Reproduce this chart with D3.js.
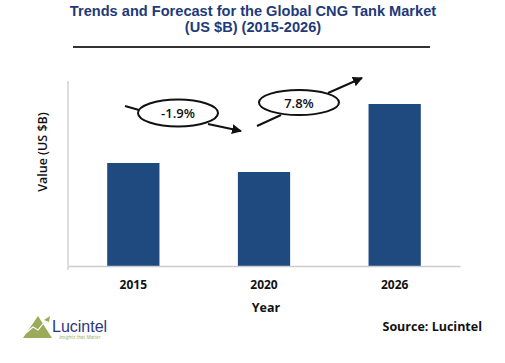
<!DOCTYPE html>
<html>
<head>
<meta charset="utf-8">
<script src="https://cdn.jsdelivr.net/npm/d3@7"></script>
<style>
  body { margin: 0; background: #fff; }
  svg { display: block; font-family: "Open Sans", "Noto Sans", sans-serif; }
</style>
</head>
<body>
<div id="chart"></div>
<script>
// Chart data
const years = ["2015", "2020", "2026"];
const values = [1.03, 0.94, 1.62];
const cagrLabels = ["-1.9%", "7.8%"];
const titleLines = ["Trends and Forecast for the Global CNG Tank Market", "(US $B) (2015-2026)"];

const W = 505, H = 363;
const margin = { top: 81, right: 45, bottom: 97, left: 68 },
      width = W - margin.left - margin.right,
      height = H - margin.top - margin.bottom;

const root = d3.select("#chart")
  .append("svg")
    .attr("width", W)
    .attr("height", H);

// Title
root.append("text")
  .attr("x", 253).attr("y", 16)
  .attr("text-anchor", "middle")
  .style("font-family", "Liberation Sans, Arial, sans-serif")
  .style("font-weight", "bold")
  .style("font-size", "14.6px")
  .attr("fill", "#1f3a78")
  .selectAll("tspan")
  .data(titleLines)
  .join("tspan")
    .attr("x", 253)
    .attr("dy", (d, i) => i === 0 ? 0 : 16)
    .text(d => d);

root.append("line")
  .attr("x1", 73).attr("x2", 430)
  .attr("y1", 47).attr("y2", 47)
  .attr("stroke", "#333").attr("stroke-width", 2);

const svg = root.append("g")
  .attr("transform", `translate(${margin.left},${margin.top})`);

// Scales
const x = d3.scaleBand()
  .domain(years)
  .range([0, width])
  .paddingInner(0.6)
  .paddingOuter(0.3);

const y = d3.scaleLinear()
  .domain([0, 1.85])
  .range([height, 0]);

// Bars
svg.selectAll(".bar")
  .data(years)
  .join("rect")
  .attr("class", "bar")
  .attr("x", d => x(d))
  .attr("y", (d, i) => y(values[i]))
  .attr("width", x.bandwidth())
  .attr("height", (d, i) => height - y(values[i]))
  .attr("fill", "#1f4a80");

// Axes
svg.append("line")
  .attr("x1", 0).attr("x2", 0)
  .attr("y1", 0).attr("y2", height + 4)
  .attr("stroke", "#bbb");

const xAxis = svg.append("g")
  .attr("transform", `translate(0,${height})`)
  .call(d3.axisBottom(x).tickSize(0).tickPadding(14));
xAxis.select(".domain").attr("stroke", "#ccc").attr("stroke-width", 1.5);
xAxis.selectAll("text")
  .style("font-family", "Open Sans, sans-serif")
  .style("font-size", "12px")
  .style("font-weight", "bold")
  .attr("fill", "#111");

// Axis titles
root.append("text")
  .attr("x", 266).attr("y", 312)
  .attr("text-anchor", "middle")
  .style("font-size", "12.5px").style("font-weight", "bold")
  .attr("fill", "#111")
  .text("Year");

root.append("text")
  .attr("transform", "translate(47,152) rotate(-90)")
  .attr("text-anchor", "middle")
  .style("font-size", "12.5px").style("font-weight", "600")
  .attr("fill", "#111")
  .text("Value (US $B)");

// CAGR annotations
const defs = root.append("defs");
defs.append("marker")
  .attr("id", "arrow")
  .attr("viewBox", "0 0 10 10")
  .attr("refX", 9).attr("refY", 5)
  .attr("markerWidth", 5).attr("markerHeight", 5)
  .attr("orient", "auto")
  .append("path")
    .attr("d", "M0,0 L10,5 L0,10 z")
    .attr("fill", "#111");

const notes = [
  { cx: 178, cy: 113, rx: 40, ry: 13.5, tail: [125, 106, 146, 112], head: [208, 124, 241, 131] },
  { cx: 299, cy: 102.5, rx: 40, ry: 12.5, tail: [257, 126, 281, 115], head: [328, 93, 362, 78] }
];

const ann = root.selectAll(".note")
  .data(notes)
  .join("g")
  .attr("class", "note");

ann.append("line")
  .attr("x1", d => d.tail[0]).attr("y1", d => d.tail[1])
  .attr("x2", d => d.tail[2]).attr("y2", d => d.tail[3])
  .attr("stroke", "#111").attr("stroke-width", 2);
ann.append("line")
  .attr("x1", d => d.head[0]).attr("y1", d => d.head[1])
  .attr("x2", d => d.head[2]).attr("y2", d => d.head[3])
  .attr("stroke", "#111").attr("stroke-width", 2)
  .attr("marker-end", "url(#arrow)");
ann.append("ellipse")
  .attr("cx", d => d.cx).attr("cy", d => d.cy)
  .attr("rx", d => d.rx).attr("ry", d => d.ry)
  .attr("fill", "#fff").attr("stroke", "#111").attr("stroke-width", 2);
ann.append("text")
  .attr("x", d => d.cx).attr("y", d => d.cy + 5)
  .attr("text-anchor", "middle")
  .style("font-size", "13px").style("font-weight", "600")
  .attr("fill", "#111")
  .text((d, i) => cagrLabels[i]);

// Source
root.append("text")
  .attr("x", 482).attr("y", 331)
  .attr("text-anchor", "end")
  .style("font-size", "12.5px").style("font-weight", "bold")
  .attr("fill", "#111")
  .text("Source: Lucintel");

// Logo
const logo = root.append("g");
logo.append("path")
  .attr("d", "M23,338 L38,316 L52,338 Z")
  .attr("fill", "#9aab5a");
logo.append("path")
  .attr("d", "M26,333 L33,327 L38,330 L46,320")
  .attr("fill", "none").attr("stroke", "#fff").attr("stroke-width", 1.2);
logo.append("path")
  .attr("d", "M44,320 L50,316 L49,322 Z")
  .attr("fill", "#9aab5a");
logo.append("text")
  .attr("x", 52).attr("y", 332)
  .style("font-family", "Liberation Sans, Arial, sans-serif")
  .style("font-size", "16px")
  .attr("fill", "#2e3580")
  .text("Lucintel");
logo.append("text")
  .attr("x", 59).attr("y", 338.5)
  .style("font-size", "4.8px").style("font-style", "italic")
  .attr("fill", "#9aab5a")
  .text("Insights that Matter");
</script>
</body>
</html>
